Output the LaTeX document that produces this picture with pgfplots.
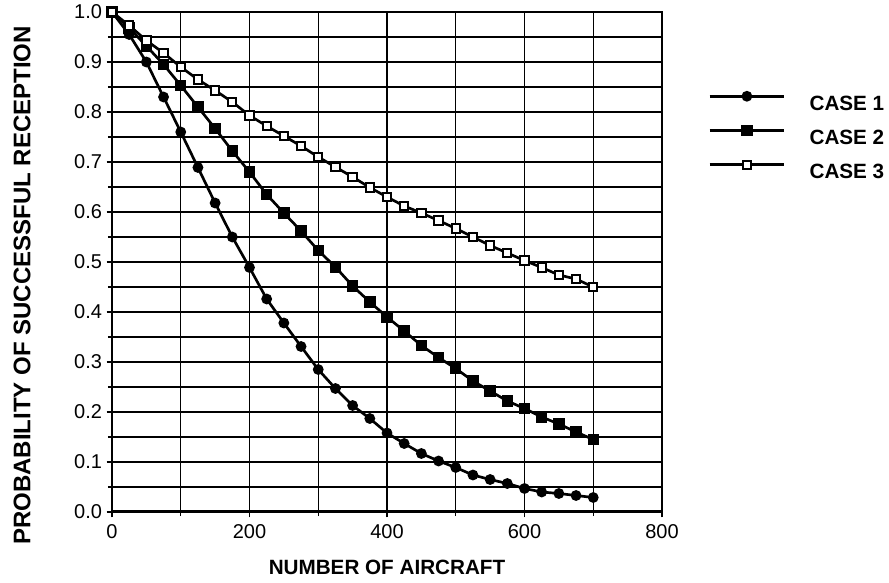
\documentclass[border=0pt]{standalone}
\usepackage{fontspec}
\setmainfont{Liberation Sans}
\usepackage{pgfplots}
\pgfplotsset{compat=1.18}

% number of aircraft vs. probability of successful reception
\newcommand{\caseone}{(0,1.0) (25,0.955) (50,0.90) (75,0.83) (100,0.76) (125,0.689) (150,0.618) (175,0.55) (200,0.489) (225,0.426) (250,0.378) (275,0.331) (300,0.285) (325,0.247) (350,0.213) (375,0.187) (400,0.158) (425,0.137) (450,0.117) (475,0.102) (500,0.089) (525,0.074) (550,0.065) (575,0.057) (600,0.047) (625,0.040) (650,0.037) (675,0.033) (700,0.029)}
\newcommand{\casetwo}{(0,1.0) (25,0.968) (50,0.932) (75,0.895) (100,0.853) (125,0.81) (150,0.767) (175,0.722) (200,0.68) (225,0.635) (250,0.598) (275,0.562) (300,0.523) (325,0.49) (350,0.452) (375,0.42) (400,0.39) (425,0.362) (450,0.333) (475,0.309) (500,0.287) (525,0.262) (550,0.242) (575,0.222) (600,0.207) (625,0.19) (650,0.176) (675,0.16) (700,0.145)}
\newcommand{\casethree}{(0,1.0) (25,0.973) (50,0.943) (75,0.918) (100,0.89) (125,0.865) (150,0.843) (175,0.82) (200,0.793) (225,0.772) (250,0.752) (275,0.732) (300,0.71) (325,0.69) (350,0.67) (375,0.649) (400,0.63) (425,0.612) (450,0.598) (475,0.583) (500,0.567) (525,0.55) (550,0.533) (575,0.518) (600,0.503) (625,0.489) (650,0.474) (675,0.466) (700,0.45)}

\begin{document}
\begin{tikzpicture}
\useasboundingbox (-84pt,-52.7pt) rectangle (582.75pt,384pt);
\begin{axis}[
  at={(0,0)}, anchor=south west,
  scale only axis, width=412.5pt, height=375pt,
  xmin=0, xmax=800, ymin=0, ymax=1,
  xtick={0,200,400,600,800}, minor xtick={100,300,500,700},
  ytick={0,0.1,0.2,0.3,0.4,0.5,0.6,0.7,0.8,0.9,1.0},
  minor ytick={0.05,0.15,0.25,0.35,0.45,0.55,0.65,0.75,0.85,0.95},
  xtick pos=bottom, ytick pos=left,
  tick align=outside,
  major tick length=4pt, minor tick length=3pt,
  tick style={black, line width=1pt},
  grid=both,
  major grid style={black, line width=1pt},
  minor grid style={black, line width=1pt},
  axis line style={line width=1.6pt},
  /pgf/number format/assume math mode=true,
  xticklabel style={font=\fontsize{15}{18}\selectfont, yshift=-1.5pt},
  yticklabel style={font=\fontsize{15}{18}\selectfont, /pgf/number format/fixed, /pgf/number format/fixed zerofill, /pgf/number format/precision=1},
  xlabel={\bfseries NUMBER OF AIRCRAFT},
  ylabel={\bfseries PROBABILITY OF SUCCESSFUL RECEPTION},
  every axis x label/.style={at={(axis description cs:0.5,-0.1107)}, anchor=center, font=\fontsize{15.5}{18}\selectfont},
  every axis y label/.style={at={(axis description cs:-0.1636,0.453)}, anchor=center, rotate=90, font=\fontsize{18}{21}\selectfont},
  legend style={at={(axis description cs:1.0836,0.84)}, anchor=north west, draw=none, fill=none,
    font=\fontsize{15.5}{18}\selectfont\bfseries, inner sep=0pt, row sep=12pt, column sep=18pt,
    nodes={inner sep=0pt, text height=11pt, text depth=0pt, anchor=west}},
  legend cell align=left,
  legend image code/.code={\draw[mark repeat=2,mark phase=2] plot coordinates {(0pt,5pt) (28pt,5pt) (56pt,5pt)};},
  every axis plot/.append style={black, line width=2pt},
]
\addplot[black, line width=2pt, mark=*, mark size=3pt] coordinates {\caseone};
\addlegendentry{CASE 1}
\addplot[black, line width=2pt, mark=square*, mark size=3.3pt] coordinates {\casetwo};
\addlegendentry{CASE 2}
\addplot[black, line width=2pt, mark=square*, mark size=3.1pt, mark options={fill=white, line width=1.5pt}] coordinates {\casethree};
\addlegendentry{CASE 3}
\draw[black, line width=3.5pt] (rel axis cs:0,0) -- (rel axis cs:1,0);
\end{axis}
\end{tikzpicture}
\end{document}
